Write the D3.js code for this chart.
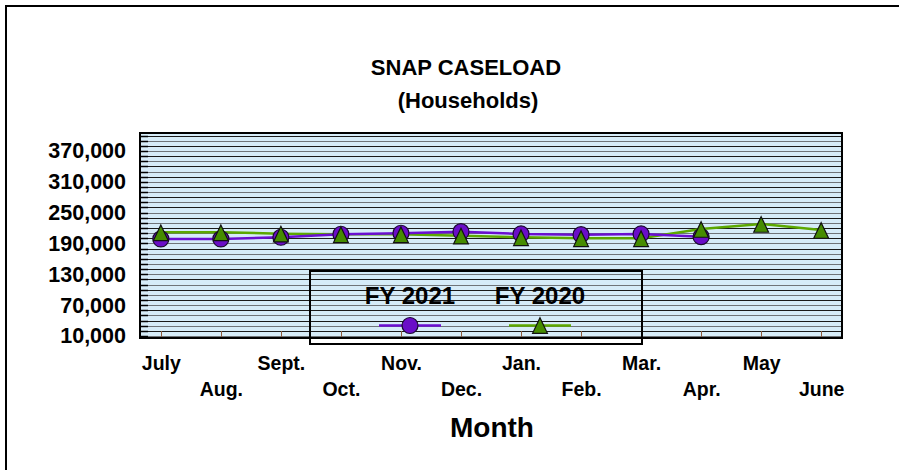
<!DOCTYPE html>
<html>
<head>
<meta charset="utf-8">
<script src="https://cdn.jsdelivr.net/npm/d3@7"></script>
<style>
  html, body { margin: 0; padding: 0; background: #fff; }
  svg { display: block; font-family: "Liberation Sans", Arial, sans-serif; font-weight: bold; }
</style>
</head>
<body>
<script>
const months = ["July","Aug.","Sept.","Oct.","Nov.","Dec.","Jan.","Feb.","Mar.","Apr.","May","June"];
const fy2021 = [198800,198800,202100,207900,209900,213000,208500,207100,208500,203200];
const fy2020 = [211800,211800,209100,207900,207900,205200,202100,200100,200100,218200,228000,216300];
const yTicks = [10000,70000,130000,190000,250000,310000,370000];
const seriesNames = ["FY 2021","FY 2020"];

const W = 899, H = 470;
const plot = {x0: 140, x1: 842, y0: 133, y1: 338};

const svg = d3.select("body").append("svg").attr("width", W).attr("height", H);

// outer frame (extends past right/bottom edges)
svg.append("rect").attr("x", 6).attr("y", 6).attr("width", 1000).attr("height", 1000)
  .attr("fill", "none").attr("stroke", "#000").attr("stroke-width", 2);

const x = d3.scalePoint().domain(months).range([plot.x0, plot.x1]).padding(0.347);
const y = d3.scaleLinear().domain([6000, 405000]).range([plot.y1, plot.y0]);

// plot background
svg.append("rect").attr("x", plot.x0).attr("y", plot.y0)
  .attr("width", plot.x1 - plot.x0).attr("height", plot.y1 - plot.y0)
  .attr("fill", "#d6ecf8");

// gridlines every 10,000
const grid = d3.range(10000, 405000, 10000);
svg.append("g").selectAll("line").data(grid).join("line")
  .attr("x1", plot.x0).attr("x2", plot.x1)
  .attr("y1", d => Math.round(y(d)) + 0.5).attr("y2", d => Math.round(y(d)) + 0.5)
  .attr("stroke", (d, i) => i % 2 ? "#1a1a1a" : "#6f7478").attr("stroke-width", 1);

// minor ticks on left axis (darker stubs)
svg.append("g").selectAll("line").data(grid).join("line")
  .attr("x1", plot.x0).attr("x2", plot.x0 + 8)
  .attr("y1", d => Math.round(y(d)) + 0.5).attr("y2", d => Math.round(y(d)) + 0.5)
  .attr("stroke", "#000").attr("stroke-width", 1.5);

// category ticks at bottom
svg.append("g").selectAll("line").data(months).join("line")
  .attr("x1", d => Math.round(x(d)) + 0.5).attr("x2", d => Math.round(x(d)) + 0.5)
  .attr("y1", plot.y1 - 7).attr("y2", plot.y1)
  .attr("stroke", "#8a5a3c").attr("stroke-width", 1);

// lines
const purple = "#6a0fd0", green = "#5ca800";
const line = d3.line().x((d, i) => x(months[i])).y(d => y(d));
svg.append("path").datum(fy2020).attr("d", line).attr("fill", "none")
  .attr("stroke", green).attr("stroke-width", 2.5);
svg.append("path").datum(fy2021).attr("d", line).attr("fill", "none")
  .attr("stroke", purple).attr("stroke-width", 2.5);

const tri = (cx, cy, s) => `M${cx},${cy - s}L${cx + s * 0.95},${cy + s}L${cx - s * 0.95},${cy + s}Z`;

// markers: FY2021 circles first, then FY2020 triangles on top
svg.append("g").selectAll("circle").data(fy2021).join("circle")
  .attr("cx", (d, i) => x(months[i])).attr("cy", d => y(d)).attr("r", 8)
  .attr("fill", "#6a0dc8").attr("stroke", "#1a0a30").attr("stroke-width", 1.2);
svg.append("g").selectAll("path").data(fy2020).join("path")
  .attr("d", (d, i) => tri(x(months[i]), y(d) + 0.5, 7.8))
  .attr("fill", "#468c00").attr("stroke", "#111").attr("stroke-width", 1.2);

// plot border
svg.append("rect").attr("x", plot.x0).attr("y", plot.y0)
  .attr("width", plot.x1 - plot.x0).attr("height", plot.y1 - plot.y0)
  .attr("fill", "none").attr("stroke", "#000").attr("stroke-width", 2);

// y axis labels
const yAxis = d3.axisLeft(y).tickValues(yTicks).tickFormat(d3.format(",")).tickSize(0).tickPadding(0);
const gy = svg.append("g").attr("transform", `translate(126,0)`).call(yAxis);
gy.select(".domain").remove();
gy.selectAll("text").attr("font-size", 21.5).attr("font-weight", "bold")
  .attr("font-family", "Liberation Sans, Arial, sans-serif").attr("fill", "#000");

// x axis labels (staggered)
const xAxis = d3.axisBottom(x).tickSize(0).tickPadding(0);
const gx = svg.append("g").attr("transform", `translate(0,${plot.y1})`).call(xAxis);
gx.select(".domain").remove();
gx.selectAll("text").attr("font-size", 19.5).attr("font-weight", "bold")
  .attr("font-family", "Liberation Sans, Arial, sans-serif").attr("fill", "#000")
  .attr("dy", null)
  .attr("y", (d, i) => i % 2 ? 58 : 32);

// titles
svg.append("text").attr("x", 466).attr("y", 75).attr("text-anchor", "middle")
  .attr("font-size", 22).text("SNAP CASELOAD");
svg.append("text").attr("x", 468).attr("y", 108).attr("text-anchor", "middle")
  .attr("font-size", 22).text("(Households)");
svg.append("text").attr("x", 492).attr("y", 437).attr("text-anchor", "middle")
  .attr("font-size", 28).text("Month");

// legend
const lg = svg.append("g");
lg.append("rect").attr("x", 310).attr("y", 271).attr("width", 332).attr("height", 73)
  .attr("fill", "none").attr("stroke", "#000").attr("stroke-width", 2);
const legX = [410, 540];
lg.selectAll("text").data(seriesNames).join("text")
  .attr("x", (d, i) => legX[i]).attr("y", 304).attr("text-anchor", "middle")
  .attr("font-size", 24).text(d => d);
lg.append("line").attr("x1", 379).attr("x2", 441).attr("y1", 325.5).attr("y2", 325.5)
  .attr("stroke", purple).attr("stroke-width", 2.5);
lg.append("circle").attr("cx", 410).attr("cy", 325.5).attr("r", 8)
  .attr("fill", "#6a0dc8").attr("stroke", "#1a0a30").attr("stroke-width", 1.2);
lg.append("line").attr("x1", 509).attr("x2", 571).attr("y1", 325.5).attr("y2", 325.5)
  .attr("stroke", green).attr("stroke-width", 2.5);
lg.append("path").attr("d", tri(540, 325.5, 7.8))
  .attr("fill", "#468c00").attr("stroke", "#111").attr("stroke-width", 1.2);
</script>
</body>
</html>
